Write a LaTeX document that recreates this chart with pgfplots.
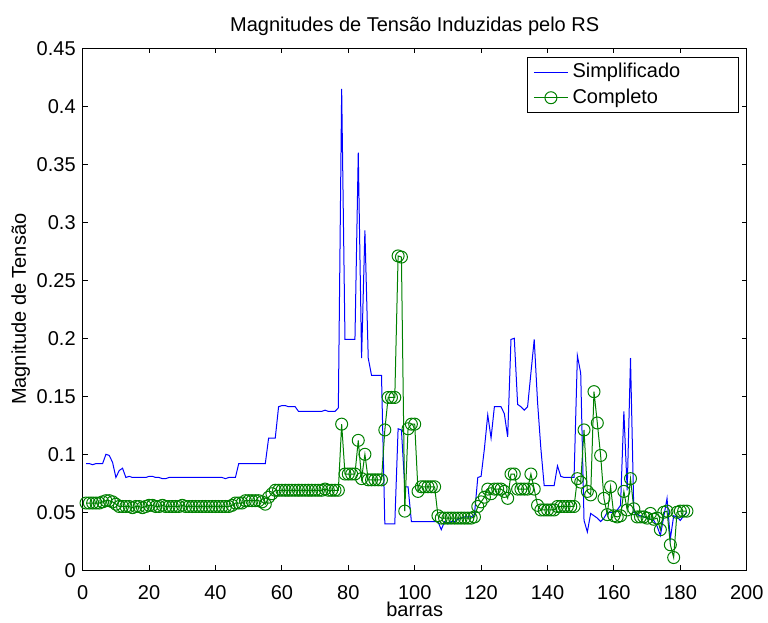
\documentclass[border=0pt]{standalone}
\usepackage{fontspec}
\setmainfont{Liberation Sans}
\usepackage{pgfplots}
\pgfplotsset{compat=1.18}
\definecolor{mlgreen}{rgb}{0,0.5,0}

\begin{document}
\begin{tikzpicture}
\begin{axis}[
  scale only axis,
  width=332pt, height=261pt,
  xmin=0, xmax=200,
  ymin=0, ymax=0.45,
  xtick={0,20,...,200},
  ytick={0,0.05,...,0.45},
  scaled y ticks=false,
  yticklabel style={/pgf/number format/fixed, /pgf/number format/precision=2},
  xticklabel style={yshift=-4pt},
  /pgf/number format/assume math mode=true,
  tick align=inside,
  major tick length=2.5pt,
  axis line style={line width=0.6pt},
  tick style={black, line width=0.5pt},
  title={Magnitudes de Tensão Induzidas pelo RS},
  title style={yshift=-3pt},
  xlabel={barras},
  xlabel style={at={(axis description cs:0.5,0)}, anchor=center, yshift=-19.5pt},
  ylabel={Magnitude de Tensão},
  ylabel style={yshift=-3.5pt},
  legend cell align=left,
  legend style={at={(axis description cs:1,1)}, anchor=north east,
    xshift=-3.85pt, yshift=-4.35pt,
    draw=black, line width=0.5pt, inner xsep=3pt, inner ysep=1pt,
    row sep=0pt,
    nodes={text width=78pt, align=left, inner sep=2pt}},
]
\addplot[color=blue, line width=0.5pt] coordinates {
(1,0.092)(2,0.092)(3,0.091)(4,0.092)(5,0.092)(6,0.092)(7,0.100)(8,0.099)(9,0.093)(10,0.080)
(11,0.086)(12,0.088)(13,0.080)(14,0.081)(15,0.080)(16,0.080)(17,0.080)(18,0.080)(19,0.080)(20,0.081)
(21,0.081)(22,0.080)(23,0.080)(24,0.079)(25,0.079)(26,0.080)(27,0.080)(28,0.080)(29,0.080)(30,0.080)
(31,0.080)(32,0.080)(33,0.080)(34,0.080)(35,0.080)(36,0.080)(37,0.080)(38,0.080)(39,0.080)(40,0.080)
(41,0.080)(42,0.080)(43,0.079)(44,0.080)(45,0.080)(46,0.080)(47,0.092)(48,0.092)(49,0.092)(50,0.092)
(51,0.092)(52,0.092)(53,0.092)(54,0.092)(55,0.092)(56,0.114)(57,0.114)(58,0.114)(59,0.141)(60,0.142)
(61,0.142)(62,0.141)(63,0.141)(64,0.141)(65,0.137)(66,0.137)(67,0.137)(68,0.137)(69,0.137)(70,0.137)
(71,0.137)(72,0.137)(73,0.138)(74,0.137)(75,0.137)(76,0.137)(77,0.140)(78,0.415)(79,0.199)(80,0.199)
(81,0.199)(82,0.199)(83,0.360)(84,0.183)(85,0.293)(86,0.183)(87,0.168)(88,0.168)(89,0.168)(90,0.168)
(91,0.040)(92,0.040)(93,0.040)(94,0.040)(95,0.122)(96,0.121)(97,0.072)(98,0.072)(99,0.042)(100,0.042)
(101,0.042)(102,0.042)(103,0.042)(104,0.042)(105,0.042)(106,0.042)(107,0.042)(108,0.035)(109,0.042)(110,0.040)
(111,0.042)(112,0.042)(113,0.044)(114,0.045)(115,0.046)(116,0.046)(117,0.046)(118,0.048)(119,0.080)(120,0.081)
(121,0.105)(122,0.134)(123,0.114)(124,0.141)(125,0.141)(126,0.141)(127,0.135)(128,0.115)(129,0.199)(130,0.200)
(131,0.143)(132,0.141)(133,0.138)(134,0.141)(135,0.170)(136,0.199)(137,0.145)(138,0.105)(139,0.073)(140,0.073)
(141,0.073)(142,0.073)(143,0.090)(144,0.081)(145,0.080)(146,0.080)(147,0.080)(148,0.080)(149,0.185)(150,0.170)
(151,0.043)(152,0.033)(153,0.049)(154,0.047)(155,0.045)(156,0.042)(157,0.045)(158,0.050)(159,0.050)(160,0.050)
(161,0.052)(162,0.056)(163,0.137)(164,0.069)(165,0.183)(166,0.050)(167,0.048)(168,0.047)(169,0.046)(170,0.045)
(171,0.044)(172,0.043)(173,0.038)(174,0.030)(175,0.046)(176,0.062)(177,0.027)(178,0.047)(179,0.046)(180,0.043)
(181,0.047)(182,0.050)
};
\addlegendentry{Simplificado}
\addplot[color=mlgreen, line width=0.5pt, mark=o, mark size=3pt, mark options={solid, line width=0.5pt}] coordinates {
(1,0.058)(2,0.058)(3,0.058)(4,0.058)(5,0.058)(6,0.059)(7,0.060)(8,0.060)(9,0.059)(10,0.057)
(11,0.055)(12,0.055)(13,0.055)(14,0.055)(15,0.054)(16,0.055)(17,0.055)(18,0.054)(19,0.055)(20,0.056)
(21,0.056)(22,0.055)(23,0.055)(24,0.056)(25,0.055)(26,0.055)(27,0.055)(28,0.055)(29,0.055)(30,0.056)
(31,0.055)(32,0.055)(33,0.055)(34,0.055)(35,0.055)(36,0.055)(37,0.055)(38,0.055)(39,0.055)(40,0.055)
(41,0.055)(42,0.055)(43,0.055)(44,0.055)(45,0.056)(46,0.058)(47,0.058)(48,0.058)(49,0.060)(50,0.060)
(51,0.060)(52,0.060)(53,0.060)(54,0.059)(55,0.057)(56,0.063)(57,0.066)(58,0.069)(59,0.069)(60,0.069)
(61,0.069)(62,0.069)(63,0.069)(64,0.069)(65,0.069)(66,0.069)(67,0.069)(68,0.069)(69,0.069)(70,0.069)
(71,0.069)(72,0.069)(73,0.070)(74,0.069)(75,0.069)(76,0.069)(77,0.069)(78,0.126)(79,0.083)(80,0.083)
(81,0.083)(82,0.083)(83,0.112)(84,0.079)(85,0.100)(86,0.078)(87,0.078)(88,0.078)(89,0.078)(90,0.078)
(91,0.121)(92,0.149)(93,0.149)(94,0.149)(95,0.271)(96,0.270)(97,0.051)(98,0.122)(99,0.126)(100,0.126)
(101,0.068)(102,0.072)(103,0.072)(104,0.072)(105,0.072)(106,0.072)(107,0.047)(108,0.045)(109,0.045)(110,0.045)
(111,0.045)(112,0.045)(113,0.045)(114,0.045)(115,0.045)(116,0.045)(117,0.045)(118,0.046)(119,0.055)(120,0.059)
(121,0.063)(122,0.070)(123,0.066)(124,0.070)(125,0.070)(126,0.070)(127,0.068)(128,0.062)(129,0.083)(130,0.083)
(131,0.070)(132,0.070)(133,0.070)(134,0.070)(135,0.083)(136,0.070)(137,0.056)(138,0.052)(139,0.052)(140,0.052)
(141,0.052)(142,0.052)(143,0.055)(144,0.055)(145,0.055)(146,0.055)(147,0.055)(148,0.055)(149,0.079)(150,0.076)
(151,0.121)(152,0.068)(153,0.065)(154,0.154)(155,0.127)(156,0.099)(157,0.062)(158,0.048)(159,0.072)(160,0.047)
(161,0.046)(162,0.047)(163,0.068)(164,0.052)(165,0.079)(166,0.053)(167,0.046)(168,0.046)(169,0.046)(170,0.045)
(171,0.049)(172,0.044)(173,0.045)(174,0.035)(175,0.050)(176,0.051)(177,0.022)(178,0.011)(179,0.050)(180,0.051)
(181,0.051)(182,0.051)
};
\addlegendentry{Completo}
\end{axis}
\pgfresetboundingbox
\path ([xshift=-41.35pt,yshift=-26pt]current axis.south west) rectangle ([xshift=10.65pt,yshift=24.15pt]current axis.north east);
\end{tikzpicture}
\end{document}
